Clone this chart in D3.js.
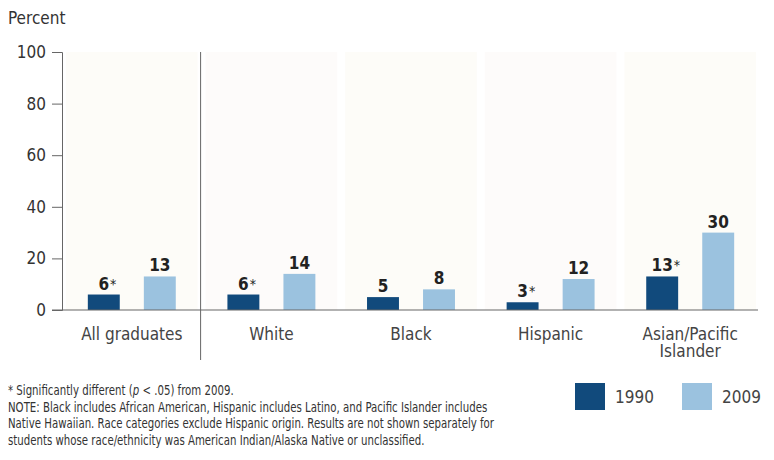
<!DOCTYPE html>
<html>
<head>
<meta charset="utf-8">
<script src="https://cdn.jsdelivr.net/npm/d3@7"></script>
<style>
  body { margin: 0; background: #fff; }
  svg text { font-family: "DejaVu Sans Condensed", "Liberation Sans Narrow", "Arial Narrow", sans-serif; }
  .note { fill: #333; font-size: 13.5px; }
</style>
</head>
<body>
<svg id="chart" width="774" height="460"></svg>
<script>
var categories = ["All graduates", "White", "Black", "Hispanic", "Asian/Pacific Islander"];
var years = ["1990", "2009"];
var values1990 = [6, 6, 5, 3, 13];
var values2009 = [13, 14, 8, 12, 30];
var sig1990 = [true, true, false, true, true];
var yTicks = [0, 20, 40, 60, 80, 100];
var notes = ["* Significantly different (p < .05) from 2009.",
             "NOTE: Black includes African American, Hispanic includes Latino, and Pacific Islander includes",
             "Native Hawaiian. Race categories exclude Hispanic origin. Results are not shown separately for",
             "students whose race/ethnicity was American Indian/Alaska Native or unclassified."];

var colors = {"1990": "#114a7c", "2009": "#9bc2df"};

var margin = {top: 52, left: 62};
var innerWidth = 698, innerHeight = 258;

var svg = d3.select("#chart");
var g = svg.append("g")
    .attr("transform", "translate(" + margin.left + "," + margin.top + ")");

var x0 = d3.scaleBand().domain(categories).range([0, innerWidth]);
var x1 = d3.scaleBand().domain(years).range([x0.bandwidth() * 0.185, x0.bandwidth() * 0.815]).paddingInner(0.43);
var y = d3.scaleLinear().domain([0, 100]).range([innerHeight, 0]);

// very faint panel tint behind groups
g.selectAll(".panel")
  .data(categories).enter()
  .append("rect")
    .attr("x", function(d){ return x0(d) + 4; })
    .attr("y", 0)
    .attr("width", x0.bandwidth() - 8)
    .attr("height", innerHeight)
    .attr("fill", function(d, i){ return i % 2 ? "#fdfbfa" : "#fdfcf8"; });

// y axis
var yAxis = d3.axisLeft(y).tickValues(yTicks).tickSize(10).tickPadding(6);
var ya = g.append("g").call(yAxis);
ya.select(".domain").attr("stroke", "#666");
ya.selectAll(".tick line").attr("stroke", "#666");
ya.selectAll("text").attr("font-size", 17).attr("fill", "#333")
  .style("font-family", "'DejaVu Sans Condensed', sans-serif");

svg.append("text")
  .attr("x", 8).attr("y", 24)
  .attr("font-size", 17).attr("fill", "#333")
  .text("Percent");

// separator after All graduates
g.append("line")
  .attr("x1", x0(categories[1]) - 1).attr("x2", x0(categories[1]) - 1)
  .attr("y1", 0).attr("y2", 308)
  .attr("stroke", "#666").attr("stroke-width", 1);

// bars
var rows = categories.map(function(c, i){
  return {cat: c, vals: [
    {year: "1990", v: values1990[i], sig: sig1990[i]},
    {year: "2009", v: values2009[i], sig: false}
  ]};
});

var groups = g.selectAll(".grp")
  .data(rows).enter()
  .append("g")
    .attr("class", "grp")
    .attr("transform", function(d){ return "translate(" + x0(d.cat) + ",0)"; });

groups.selectAll("rect")
  .data(function(d){ return d.vals; }).enter()
  .append("rect")
    .attr("x", function(d){ return x1(d.year); })
    .attr("y", function(d){ return y(d.v); })
    .attr("width", x1.bandwidth())
    .attr("height", function(d){ return innerHeight - y(d.v); })
    .attr("fill", function(d){ return colors[d.year]; });

groups.selectAll(".val")
  .data(function(d){ return d.vals; }).enter()
  .append("text")
    .attr("class", "val")
    .attr("x", function(d){ return x1(d.year) + x1.bandwidth() / 2; })
    .attr("y", function(d){ return y(d.v) - 5; })
    .attr("text-anchor", "middle")
    .attr("font-size", 17).attr("font-weight", "bold").attr("fill", "#222")
    .text(function(d){ return d.v; })
    .each(function(d){
      if (!d.sig) return;
      var w = this.getComputedTextLength();
      d3.select(this.parentNode).append("text")
        .attr("x", x1(d.year) + x1.bandwidth() / 2 + w / 2 + 1)
        .attr("y", y(d.v) - 6)
        .attr("font-size", 14).attr("fill", "#222")
        .text("*");
    });

// baseline
g.append("line")
  .attr("x1", -10).attr("x2", innerWidth - 2)
  .attr("y1", innerHeight).attr("y2", innerHeight)
  .attr("stroke", "#666");

// category labels (long one wraps at its last space)
categories.forEach(function(d){
  var parts = d.indexOf("/") > 0 && d.indexOf(" ") > 0 ? [d.slice(0, d.lastIndexOf(" ")), d.slice(d.lastIndexOf(" ") + 1)] : [d];
  parts.forEach(function(p, k){
    g.append("text")
      .attr("class", "cat")
      .attr("x", x0(d) + x0.bandwidth() / 2)
      .attr("y", innerHeight + 30 + k * 17)
      .attr("text-anchor", "middle")
      .attr("font-size", 17).attr("fill", "#444")
      .text(p);
  });
});

// notes, squeezed horizontally like the condensed original
var ng = svg.append("g").attr("transform", "translate(8,0) scale(0.84,1)");
notes.forEach(function(n, i){
  var yy = 395 + i * 16.7;
  if (i === 0) {
    var a = ng.append("text").attr("class", "note").attr("x", 0).attr("y", yy).text("* Significantly different (");
    var xa = a.node().getComputedTextLength();
    var b = ng.append("text").attr("class", "note").attr("x", xa).attr("y", yy)
      .attr("font-style", "italic").text("p");
    var xb = xa + b.node().getComputedTextLength();
    ng.append("text").attr("class", "note").attr("x", xb).attr("y", yy).text(" < .05) from 2009.")
      .style("white-space", "pre");
  } else {
    ng.append("text").attr("class", "note").attr("x", 0).attr("y", yy).text(n);
  }
});

// legend
var legend = svg.selectAll(".leg")
  .data(years).enter()
  .append("g")
    .attr("class", "leg")
    .attr("transform", function(d, i){ return "translate(" + (575 + i * 107) + ",383)"; });
legend.append("rect")
  .attr("width", 30).attr("height", 27)
  .attr("fill", function(d){ return colors[d]; });
legend.append("text")
  .attr("x", 40).attr("y", 20)
  .attr("font-size", 17).attr("fill", "#444")
  .text(function(d){ return d; });
</script>
</body>
</html>
